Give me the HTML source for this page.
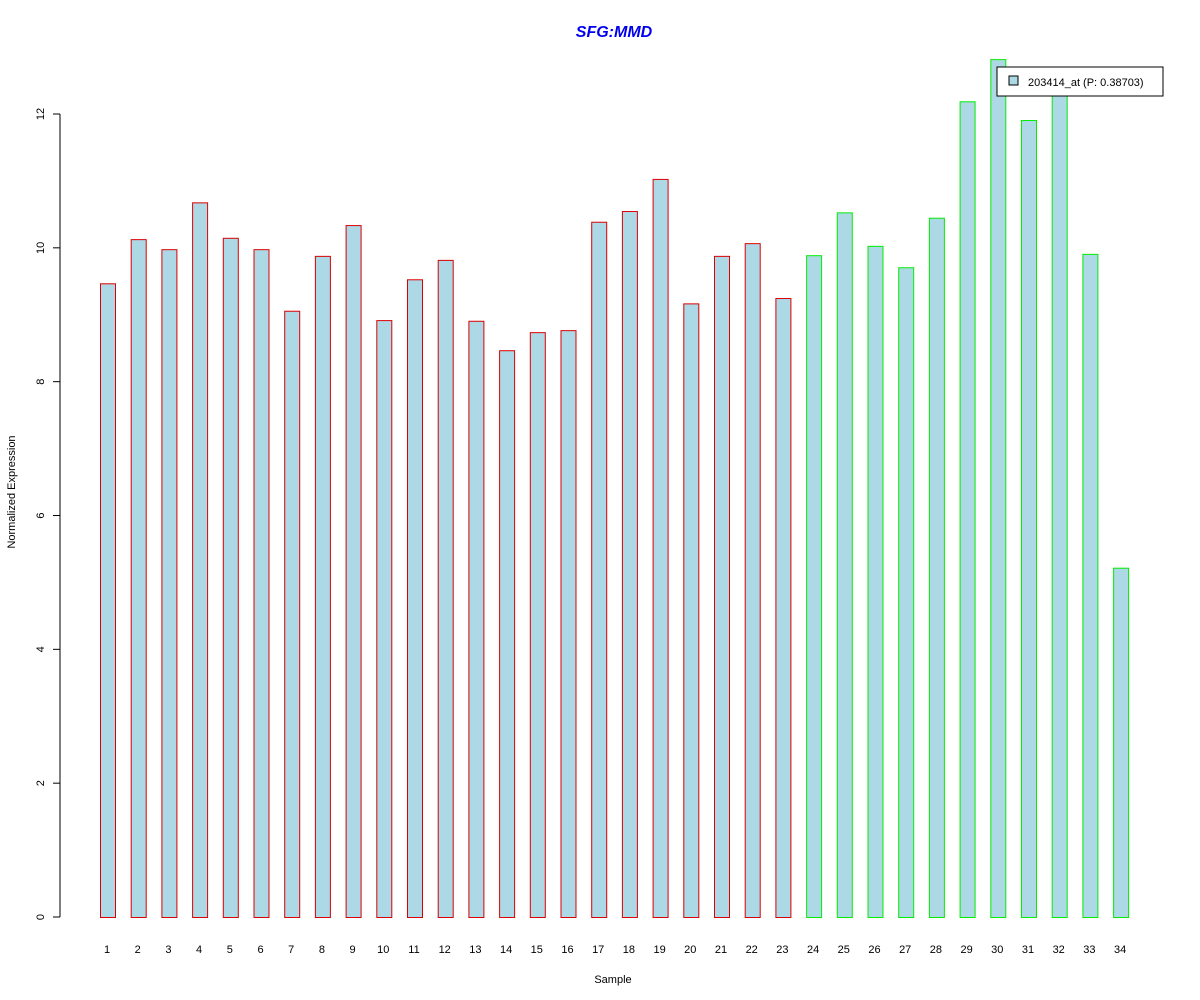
<!DOCTYPE html>
<html><head><meta charset="utf-8"><style>body{margin:0;background:#fff}svg{display:block}text{font-family:"Liberation Sans",Arial,sans-serif}</style></head>
<body>
<svg id="s" width="1200" height="1000" xmlns="http://www.w3.org/2000/svg">
<rect width="1200" height="1000" fill="#fff"/>
<text x="614" y="37" text-anchor="middle" font-size="16" font-weight="bold" font-style="italic" fill="#0000ee">SFG:MMD</text>
<text x="613" y="983" text-anchor="middle" font-size="11">Sample</text>
<text transform="translate(15,492) rotate(-90)" text-anchor="middle" font-size="11">Normalized Expression</text>
<line x1="60" y1="114" x2="60" y2="917" stroke="#000"/>
<g id="g"></g>
<rect x="997" y="67" width="166" height="29" fill="#fff" stroke="#000"/>
<rect x="1009" y="76" width="9" height="9" fill="#add8e6" stroke="#000"/>
<text x="1028" y="86" font-size="11">203414_at (P: 0.38703)</text>
</svg>
<script>
var v=[9.47,10.13,9.98,10.68,10.15,9.98,9.06,9.88,10.34,8.92,9.53,9.82,8.91,8.47,8.74,8.77,10.39,10.55,11.03,9.17,9.88,10.07,9.25,9.89,10.53,10.03,9.71,10.45,12.19,12.82,11.91,12.3,9.91,5.22];
var g=document.getElementById('g'),h='';
var sc=(917-114)/12;
for(var i=0;i<=12;i+=2){var y=917-i*sc;h+='<line x1="53" y1="'+y+'" x2="60" y2="'+y+'" stroke="#000"/><text transform="translate(44,'+y+') rotate(-90)" text-anchor="middle" font-size="11">'+i+'</text>';}
for(var k=0;k<34;k++){var x=100+k*30.7,t=917-v[k]*sc;
h+='<rect x="'+(x+0.5)+'" y="'+(t+0.5)+'" width="15" height="'+(917-t)+'" fill="#add8e6" stroke="'+(k<23?'#dd0000':'#00ee00')+'"/>';
h+='<text x="'+(x+7)+'" y="953" text-anchor="middle" font-size="11">'+(k+1)+'</text>';}
g.innerHTML=h;
</script>
</body></html>
